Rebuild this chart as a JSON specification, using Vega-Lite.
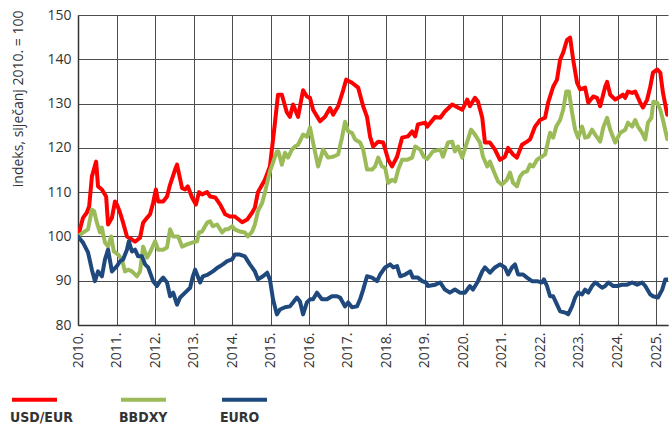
{
  "$schema": "https://vega.github.io/schema/vega-lite/v6.json",
  "width": 590,
  "height": 310,
  "autosize": {"type": "none"},
  "padding": {"left": 78, "top": 15, "right": 2, "bottom": 102},
  "background": "white",
  "config": {
    "view": {"stroke": null},
    "font": "Open Sans",
    "axis": {
      "labelFont": "Open Sans",
      "labelFontSize": 14,
      "labelColor": "#333333",
      "titleFont": "Open Sans",
      "titleFontSize": 14,
      "titleFontWeight": "normal",
      "titleColor": "#333333",
      "gridColor": "#4d4d4d",
      "gridOpacity": 1,
      "gridWidth": 1,
      "domainColor": "#333333",
      "domainWidth": 1.5,
      "ticks": false
    }
  },
  "data": {
    "values": [
      {"s":"USD/EUR","t":2010.00,"v":100},{"s":"USD/EUR","t":2010.13,"v":104.2},{"s":"USD/EUR","t":2010.23,"v":105.4},{"s":"USD/EUR","t":2010.29,"v":106.8},{"s":"USD/EUR","t":2010.36,"v":113.5},{"s":"USD/EUR","t":2010.47,"v":116.9},{"s":"USD/EUR","t":2010.52,"v":111.3},{"s":"USD/EUR","t":2010.62,"v":110.6},{"s":"USD/EUR","t":2010.73,"v":109},{"s":"USD/EUR","t":2010.78,"v":102.7},{"s":"USD/EUR","t":2010.88,"v":104.2},{"s":"USD/EUR","t":2010.96,"v":107.9},{"s":"USD/EUR","t":2011.01,"v":107.2},{"s":"USD/EUR","t":2011.09,"v":105.4},{"s":"USD/EUR","t":2011.17,"v":103.1},{"s":"USD/EUR","t":2011.27,"v":100},{"s":"USD/EUR","t":2011.40,"v":99.3},{"s":"USD/EUR","t":2011.48,"v":98.8},{"s":"USD/EUR","t":2011.61,"v":99.7},{"s":"USD/EUR","t":2011.69,"v":103.1},{"s":"USD/EUR","t":2011.79,"v":104.2},{"s":"USD/EUR","t":2011.87,"v":105},{"s":"USD/EUR","t":2011.95,"v":107.6},{"s":"USD/EUR","t":2012.02,"v":110.6},{"s":"USD/EUR","t":2012.08,"v":107.9},{"s":"USD/EUR","t":2012.21,"v":107.9},{"s":"USD/EUR","t":2012.31,"v":109},{"s":"USD/EUR","t":2012.39,"v":111.7},{"s":"USD/EUR","t":2012.52,"v":115.1},{"s":"USD/EUR","t":2012.57,"v":116.2},{"s":"USD/EUR","t":2012.70,"v":110.9},{"s":"USD/EUR","t":2012.78,"v":110.6},{"s":"USD/EUR","t":2012.85,"v":111.3},{"s":"USD/EUR","t":2012.96,"v":108.8},{"s":"USD/EUR","t":2013.06,"v":107.2},{"s":"USD/EUR","t":2013.14,"v":110},{"s":"USD/EUR","t":2013.22,"v":109.5},{"s":"USD/EUR","t":2013.35,"v":110},{"s":"USD/EUR","t":2013.43,"v":109},{"s":"USD/EUR","t":2013.56,"v":108.8},{"s":"USD/EUR","t":2013.69,"v":107.2},{"s":"USD/EUR","t":2013.82,"v":105},{"s":"USD/EUR","t":2013.94,"v":104.5},{"s":"USD/EUR","t":2014.07,"v":104.5},{"s":"USD/EUR","t":2014.26,"v":103.2},{"s":"USD/EUR","t":2014.39,"v":103.8},{"s":"USD/EUR","t":2014.52,"v":105.4},{"s":"USD/EUR","t":2014.59,"v":106.5},{"s":"USD/EUR","t":2014.67,"v":110},{"s":"USD/EUR","t":2014.85,"v":112.8},{"s":"USD/EUR","t":2014.98,"v":115.8},{"s":"USD/EUR","t":2015.11,"v":125.6},{"s":"USD/EUR","t":2015.19,"v":132},{"s":"USD/EUR","t":2015.29,"v":132},{"s":"USD/EUR","t":2015.42,"v":128},{"s":"USD/EUR","t":2015.50,"v":127},{"s":"USD/EUR","t":2015.58,"v":129.8},{"s":"USD/EUR","t":2015.71,"v":127},{"s":"USD/EUR","t":2015.84,"v":133},{"s":"USD/EUR","t":2015.94,"v":131.6},{"s":"USD/EUR","t":2016.02,"v":131.3},{"s":"USD/EUR","t":2016.10,"v":128.6},{"s":"USD/EUR","t":2016.28,"v":126},{"s":"USD/EUR","t":2016.41,"v":127},{"s":"USD/EUR","t":2016.54,"v":129},{"s":"USD/EUR","t":2016.62,"v":127.5},{"s":"USD/EUR","t":2016.75,"v":129.4},{"s":"USD/EUR","t":2016.88,"v":133},{"s":"USD/EUR","t":2016.96,"v":135.4},{"s":"USD/EUR","t":2017.11,"v":134.7},{"s":"USD/EUR","t":2017.27,"v":133.6},{"s":"USD/EUR","t":2017.40,"v":129.4},{"s":"USD/EUR","t":2017.50,"v":127},{"s":"USD/EUR","t":2017.58,"v":122.5},{"s":"USD/EUR","t":2017.66,"v":120.3},{"s":"USD/EUR","t":2017.79,"v":121.4},{"s":"USD/EUR","t":2017.92,"v":121.2},{"s":"USD/EUR","t":2018.05,"v":117.3},{"s":"USD/EUR","t":2018.15,"v":115.8},{"s":"USD/EUR","t":2018.28,"v":118},{"s":"USD/EUR","t":2018.41,"v":122.3},{"s":"USD/EUR","t":2018.56,"v":122.6},{"s":"USD/EUR","t":2018.67,"v":123.7},{"s":"USD/EUR","t":2018.75,"v":122.6},{"s":"USD/EUR","t":2018.82,"v":125.3},{"s":"USD/EUR","t":2019.01,"v":125.7},{"s":"USD/EUR","t":2019.06,"v":124.8},{"s":"USD/EUR","t":2019.27,"v":127},{"s":"USD/EUR","t":2019.40,"v":126.8},{"s":"USD/EUR","t":2019.52,"v":128.2},{"s":"USD/EUR","t":2019.71,"v":129.8},{"s":"USD/EUR","t":2019.97,"v":128.6},{"s":"USD/EUR","t":2020.10,"v":130.9},{"s":"USD/EUR","t":2020.17,"v":129.4},{"s":"USD/EUR","t":2020.30,"v":131.3},{"s":"USD/EUR","t":2020.38,"v":130.4},{"s":"USD/EUR","t":2020.49,"v":126.8},{"s":"USD/EUR","t":2020.56,"v":121.2},{"s":"USD/EUR","t":2020.69,"v":121.2},{"s":"USD/EUR","t":2020.82,"v":119.6},{"s":"USD/EUR","t":2020.95,"v":117.3},{"s":"USD/EUR","t":2021.08,"v":118},{"s":"USD/EUR","t":2021.16,"v":120},{"s":"USD/EUR","t":2021.29,"v":118.5},{"s":"USD/EUR","t":2021.39,"v":117.8},{"s":"USD/EUR","t":2021.52,"v":120.7},{"s":"USD/EUR","t":2021.65,"v":121.4},{"s":"USD/EUR","t":2021.73,"v":121.9},{"s":"USD/EUR","t":2021.86,"v":124.8},{"s":"USD/EUR","t":2021.99,"v":126.3},{"s":"USD/EUR","t":2022.12,"v":126.8},{"s":"USD/EUR","t":2022.20,"v":130.2},{"s":"USD/EUR","t":2022.33,"v":133.8},{"s":"USD/EUR","t":2022.43,"v":135.4},{"s":"USD/EUR","t":2022.51,"v":139.9},{"s":"USD/EUR","t":2022.59,"v":141.5},{"s":"USD/EUR","t":2022.69,"v":144.4},{"s":"USD/EUR","t":2022.77,"v":144.9},{"s":"USD/EUR","t":2022.85,"v":139.9},{"s":"USD/EUR","t":2022.95,"v":134.7},{"s":"USD/EUR","t":2023.03,"v":133.2},{"s":"USD/EUR","t":2023.16,"v":133.6},{"s":"USD/EUR","t":2023.24,"v":130.2},{"s":"USD/EUR","t":2023.37,"v":131.6},{"s":"USD/EUR","t":2023.47,"v":131.3},{"s":"USD/EUR","t":2023.55,"v":129.4},{"s":"USD/EUR","t":2023.68,"v":133.8},{"s":"USD/EUR","t":2023.73,"v":134.9},{"s":"USD/EUR","t":2023.81,"v":132},{"s":"USD/EUR","t":2023.94,"v":130.9},{"s":"USD/EUR","t":2024.07,"v":131.6},{"s":"USD/EUR","t":2024.14,"v":132},{"s":"USD/EUR","t":2024.20,"v":131.3},{"s":"USD/EUR","t":2024.27,"v":132.7},{"s":"USD/EUR","t":2024.38,"v":132.4},{"s":"USD/EUR","t":2024.46,"v":132.7},{"s":"USD/EUR","t":2024.59,"v":130.2},{"s":"USD/EUR","t":2024.66,"v":129.1},{"s":"USD/EUR","t":2024.77,"v":130.9},{"s":"USD/EUR","t":2024.85,"v":133.8},{"s":"USD/EUR","t":2024.92,"v":137},{"s":"USD/EUR","t":2025.03,"v":137.7},{"s":"USD/EUR","t":2025.11,"v":137},{"s":"USD/EUR","t":2025.18,"v":132.4},{"s":"USD/EUR","t":2025.29,"v":127.5},

      {"s":"BBDXY","t":2010.00,"v":100},{"s":"BBDXY","t":2010.13,"v":100.9},{"s":"BBDXY","t":2010.26,"v":101.6},{"s":"BBDXY","t":2010.36,"v":106},{"s":"BBDXY","t":2010.42,"v":105.7},{"s":"BBDXY","t":2010.49,"v":103.1},{"s":"BBDXY","t":2010.57,"v":100.9},{"s":"BBDXY","t":2010.62,"v":102},{"s":"BBDXY","t":2010.70,"v":98.6},{"s":"BBDXY","t":2010.78,"v":97.7},{"s":"BBDXY","t":2010.86,"v":100},{"s":"BBDXY","t":2010.93,"v":96.6},{"s":"BBDXY","t":2011.04,"v":95.9},{"s":"BBDXY","t":2011.14,"v":94.8},{"s":"BBDXY","t":2011.22,"v":92.1},{"s":"BBDXY","t":2011.30,"v":92.5},{"s":"BBDXY","t":2011.40,"v":92.1},{"s":"BBDXY","t":2011.53,"v":91},{"s":"BBDXY","t":2011.61,"v":92.1},{"s":"BBDXY","t":2011.69,"v":97.7},{"s":"BBDXY","t":2011.79,"v":95.2},{"s":"BBDXY","t":2011.87,"v":96.4},{"s":"BBDXY","t":2012.00,"v":98.9},{"s":"BBDXY","t":2012.08,"v":97},{"s":"BBDXY","t":2012.21,"v":97},{"s":"BBDXY","t":2012.31,"v":97.5},{"s":"BBDXY","t":2012.39,"v":101.6},{"s":"BBDXY","t":2012.47,"v":100},{"s":"BBDXY","t":2012.60,"v":100},{"s":"BBDXY","t":2012.70,"v":97.7},{"s":"BBDXY","t":2012.83,"v":98.2},{"s":"BBDXY","t":2012.96,"v":98.6},{"s":"BBDXY","t":2013.09,"v":98.9},{"s":"BBDXY","t":2013.14,"v":100.9},{"s":"BBDXY","t":2013.22,"v":101.1},{"s":"BBDXY","t":2013.35,"v":103.1},{"s":"BBDXY","t":2013.43,"v":103.4},{"s":"BBDXY","t":2013.50,"v":102.3},{"s":"BBDXY","t":2013.61,"v":102.7},{"s":"BBDXY","t":2013.74,"v":100.9},{"s":"BBDXY","t":2013.82,"v":101.6},{"s":"BBDXY","t":2013.89,"v":101.6},{"s":"BBDXY","t":2014.00,"v":102.3},{"s":"BBDXY","t":2014.07,"v":101.6},{"s":"BBDXY","t":2014.20,"v":101.1},{"s":"BBDXY","t":2014.33,"v":100.9},{"s":"BBDXY","t":2014.41,"v":100},{"s":"BBDXY","t":2014.52,"v":101.1},{"s":"BBDXY","t":2014.59,"v":102.7},{"s":"BBDXY","t":2014.67,"v":105.7},{"s":"BBDXY","t":2014.78,"v":107.6},{"s":"BBDXY","t":2014.85,"v":109.9},{"s":"BBDXY","t":2014.98,"v":114.7},{"s":"BBDXY","t":2015.06,"v":116.7},{"s":"BBDXY","t":2015.16,"v":119.2},{"s":"BBDXY","t":2015.20,"v":119.2},{"s":"BBDXY","t":2015.29,"v":116.2},{"s":"BBDXY","t":2015.37,"v":118.9},{"s":"BBDXY","t":2015.45,"v":117.8},{"s":"BBDXY","t":2015.55,"v":119.6},{"s":"BBDXY","t":2015.63,"v":120.3},{"s":"BBDXY","t":2015.71,"v":120.7},{"s":"BBDXY","t":2015.84,"v":123},{"s":"BBDXY","t":2015.94,"v":122.5},{"s":"BBDXY","t":2016.02,"v":124.6},{"s":"BBDXY","t":2016.10,"v":121.2},{"s":"BBDXY","t":2016.23,"v":115.8},{"s":"BBDXY","t":2016.36,"v":119.6},{"s":"BBDXY","t":2016.49,"v":117.8},{"s":"BBDXY","t":2016.62,"v":118},{"s":"BBDXY","t":2016.75,"v":118.5},{"s":"BBDXY","t":2016.85,"v":122.3},{"s":"BBDXY","t":2016.93,"v":125.9},{"s":"BBDXY","t":2017.01,"v":123.7},{"s":"BBDXY","t":2017.11,"v":123.4},{"s":"BBDXY","t":2017.19,"v":121.9},{"s":"BBDXY","t":2017.32,"v":121.2},{"s":"BBDXY","t":2017.40,"v":119.6},{"s":"BBDXY","t":2017.50,"v":115.1},{"s":"BBDXY","t":2017.63,"v":115.1},{"s":"BBDXY","t":2017.71,"v":115.8},{"s":"BBDXY","t":2017.79,"v":117.8},{"s":"BBDXY","t":2017.89,"v":115.8},{"s":"BBDXY","t":2017.97,"v":115.5},{"s":"BBDXY","t":2018.05,"v":112.1},{"s":"BBDXY","t":2018.15,"v":112.8},{"s":"BBDXY","t":2018.23,"v":112.4},{"s":"BBDXY","t":2018.31,"v":115.1},{"s":"BBDXY","t":2018.41,"v":117.3},{"s":"BBDXY","t":2018.54,"v":117.3},{"s":"BBDXY","t":2018.67,"v":117.8},{"s":"BBDXY","t":2018.75,"v":120.3},{"s":"BBDXY","t":2018.88,"v":119.6},{"s":"BBDXY","t":2018.97,"v":118},{"s":"BBDXY","t":2019.06,"v":117.5},{"s":"BBDXY","t":2019.21,"v":119.2},{"s":"BBDXY","t":2019.40,"v":119.6},{"s":"BBDXY","t":2019.47,"v":118},{"s":"BBDXY","t":2019.60,"v":121.2},{"s":"BBDXY","t":2019.71,"v":121.4},{"s":"BBDXY","t":2019.78,"v":119.2},{"s":"BBDXY","t":2019.86,"v":120.3},{"s":"BBDXY","t":2019.97,"v":117.8},{"s":"BBDXY","t":2020.10,"v":121.4},{"s":"BBDXY","t":2020.20,"v":124.1},{"s":"BBDXY","t":2020.30,"v":123},{"s":"BBDXY","t":2020.43,"v":121.2},{"s":"BBDXY","t":2020.51,"v":118},{"s":"BBDXY","t":2020.62,"v":115.8},{"s":"BBDXY","t":2020.69,"v":116.9},{"s":"BBDXY","t":2020.77,"v":115.1},{"s":"BBDXY","t":2020.90,"v":112.4},{"s":"BBDXY","t":2021.00,"v":111.7},{"s":"BBDXY","t":2021.13,"v":112.8},{"s":"BBDXY","t":2021.21,"v":114.4},{"s":"BBDXY","t":2021.29,"v":112.1},{"s":"BBDXY","t":2021.39,"v":111.3},{"s":"BBDXY","t":2021.47,"v":113.5},{"s":"BBDXY","t":2021.55,"v":114.4},{"s":"BBDXY","t":2021.65,"v":114.7},{"s":"BBDXY","t":2021.73,"v":116.2},{"s":"BBDXY","t":2021.81,"v":115.8},{"s":"BBDXY","t":2021.91,"v":117.3},{"s":"BBDXY","t":2021.99,"v":117.8},{"s":"BBDXY","t":2022.04,"v":118},{"s":"BBDXY","t":2022.12,"v":118.5},{"s":"BBDXY","t":2022.25,"v":123.4},{"s":"BBDXY","t":2022.33,"v":122.3},{"s":"BBDXY","t":2022.41,"v":124.8},{"s":"BBDXY","t":2022.51,"v":126.3},{"s":"BBDXY","t":2022.59,"v":128.6},{"s":"BBDXY","t":2022.67,"v":132.7},{"s":"BBDXY","t":2022.74,"v":132.7},{"s":"BBDXY","t":2022.82,"v":128},{"s":"BBDXY","t":2022.90,"v":124.1},{"s":"BBDXY","t":2022.98,"v":122.3},{"s":"BBDXY","t":2023.08,"v":124.8},{"s":"BBDXY","t":2023.16,"v":122.3},{"s":"BBDXY","t":2023.24,"v":122.5},{"s":"BBDXY","t":2023.34,"v":124.1},{"s":"BBDXY","t":2023.42,"v":123},{"s":"BBDXY","t":2023.55,"v":121.4},{"s":"BBDXY","t":2023.63,"v":124.6},{"s":"BBDXY","t":2023.73,"v":126.8},{"s":"BBDXY","t":2023.81,"v":124.1},{"s":"BBDXY","t":2023.94,"v":121.2},{"s":"BBDXY","t":2024.07,"v":123.4},{"s":"BBDXY","t":2024.20,"v":124.1},{"s":"BBDXY","t":2024.27,"v":125.7},{"s":"BBDXY","t":2024.38,"v":124.8},{"s":"BBDXY","t":2024.46,"v":126.3},{"s":"BBDXY","t":2024.53,"v":124.8},{"s":"BBDXY","t":2024.64,"v":123.4},{"s":"BBDXY","t":2024.72,"v":121.9},{"s":"BBDXY","t":2024.79,"v":125.7},{"s":"BBDXY","t":2024.88,"v":126.8},{"s":"BBDXY","t":2024.93,"v":130.4},{"s":"BBDXY","t":2025.03,"v":130.2},{"s":"BBDXY","t":2025.11,"v":128.6},{"s":"BBDXY","t":2025.18,"v":126.3},{"s":"BBDXY","t":2025.29,"v":122},

      {"s":"EURO","t":2010.00,"v":100},{"s":"EURO","t":2010.13,"v":98.6},{"s":"EURO","t":2010.26,"v":96.4},{"s":"EURO","t":2010.36,"v":92.5},{"s":"EURO","t":2010.44,"v":89.9},{"s":"EURO","t":2010.52,"v":92.1},{"s":"EURO","t":2010.62,"v":91},{"s":"EURO","t":2010.70,"v":94.8},{"s":"EURO","t":2010.78,"v":97},{"s":"EURO","t":2010.88,"v":92.1},{"s":"EURO","t":2011.01,"v":93.3},{"s":"EURO","t":2011.09,"v":94.4},{"s":"EURO","t":2011.17,"v":94.8},{"s":"EURO","t":2011.27,"v":97},{"s":"EURO","t":2011.32,"v":98.9},{"s":"EURO","t":2011.40,"v":96.6},{"s":"EURO","t":2011.48,"v":97},{"s":"EURO","t":2011.56,"v":95.5},{"s":"EURO","t":2011.66,"v":95.5},{"s":"EURO","t":2011.74,"v":93.7},{"s":"EURO","t":2011.82,"v":93},{"s":"EURO","t":2011.95,"v":89.9},{"s":"EURO","t":2012.05,"v":88.8},{"s":"EURO","t":2012.13,"v":89.9},{"s":"EURO","t":2012.21,"v":90.7},{"s":"EURO","t":2012.31,"v":89.6},{"s":"EURO","t":2012.39,"v":86.5},{"s":"EURO","t":2012.47,"v":87.3},{"s":"EURO","t":2012.57,"v":84.6},{"s":"EURO","t":2012.65,"v":86.2},{"s":"EURO","t":2012.78,"v":87.3},{"s":"EURO","t":2012.91,"v":88.4},{"s":"EURO","t":2012.98,"v":91},{"s":"EURO","t":2013.04,"v":92.5},{"s":"EURO","t":2013.17,"v":89.6},{"s":"EURO","t":2013.24,"v":91},{"s":"EURO","t":2013.37,"v":91.4},{"s":"EURO","t":2013.50,"v":92.1},{"s":"EURO","t":2013.63,"v":93},{"s":"EURO","t":2013.76,"v":93.7},{"s":"EURO","t":2013.87,"v":94.4},{"s":"EURO","t":2014.00,"v":94.8},{"s":"EURO","t":2014.07,"v":95.9},{"s":"EURO","t":2014.20,"v":95.9},{"s":"EURO","t":2014.33,"v":95.5},{"s":"EURO","t":2014.46,"v":93.7},{"s":"EURO","t":2014.59,"v":92.1},{"s":"EURO","t":2014.67,"v":90.3},{"s":"EURO","t":2014.80,"v":91},{"s":"EURO","t":2014.91,"v":91.8},{"s":"EURO","t":2014.98,"v":90.3},{"s":"EURO","t":2015.06,"v":85.8},{"s":"EURO","t":2015.16,"v":82.4},{"s":"EURO","t":2015.24,"v":83.5},{"s":"EURO","t":2015.37,"v":84},{"s":"EURO","t":2015.50,"v":84.2},{"s":"EURO","t":2015.58,"v":85.1},{"s":"EURO","t":2015.68,"v":86.2},{"s":"EURO","t":2015.76,"v":85.3},{"s":"EURO","t":2015.84,"v":82.4},{"s":"EURO","t":2015.94,"v":85.1},{"s":"EURO","t":2016.02,"v":85.8},{"s":"EURO","t":2016.10,"v":85.8},{"s":"EURO","t":2016.20,"v":87.3},{"s":"EURO","t":2016.33,"v":85.8},{"s":"EURO","t":2016.46,"v":85.8},{"s":"EURO","t":2016.59,"v":86.5},{"s":"EURO","t":2016.72,"v":86.5},{"s":"EURO","t":2016.80,"v":86.2},{"s":"EURO","t":2016.93,"v":84.2},{"s":"EURO","t":2017.01,"v":85.1},{"s":"EURO","t":2017.11,"v":84},{"s":"EURO","t":2017.24,"v":84.2},{"s":"EURO","t":2017.32,"v":85.8},{"s":"EURO","t":2017.40,"v":88},{"s":"EURO","t":2017.50,"v":91},{"s":"EURO","t":2017.63,"v":90.7},{"s":"EURO","t":2017.76,"v":89.9},{"s":"EURO","t":2017.84,"v":91.4},{"s":"EURO","t":2017.97,"v":93},{"s":"EURO","t":2018.10,"v":93.7},{"s":"EURO","t":2018.18,"v":93},{"s":"EURO","t":2018.28,"v":93.3},{"s":"EURO","t":2018.36,"v":91},{"s":"EURO","t":2018.49,"v":91.4},{"s":"EURO","t":2018.62,"v":92.1},{"s":"EURO","t":2018.69,"v":90.7},{"s":"EURO","t":2018.82,"v":90.7},{"s":"EURO","t":2018.93,"v":89.9},{"s":"EURO","t":2019.03,"v":89.6},{"s":"EURO","t":2019.08,"v":88.8},{"s":"EURO","t":2019.27,"v":89.1},{"s":"EURO","t":2019.40,"v":89.6},{"s":"EURO","t":2019.52,"v":88},{"s":"EURO","t":2019.65,"v":87.3},{"s":"EURO","t":2019.78,"v":88},{"s":"EURO","t":2019.91,"v":87.3},{"s":"EURO","t":2020.04,"v":87.3},{"s":"EURO","t":2020.17,"v":88.8},{"s":"EURO","t":2020.25,"v":88},{"s":"EURO","t":2020.38,"v":89.9},{"s":"EURO","t":2020.49,"v":92.1},{"s":"EURO","t":2020.56,"v":93},{"s":"EURO","t":2020.69,"v":91.8},{"s":"EURO","t":2020.82,"v":93},{"s":"EURO","t":2020.95,"v":93.7},{"s":"EURO","t":2021.08,"v":93},{"s":"EURO","t":2021.16,"v":91.4},{"s":"EURO","t":2021.26,"v":93},{"s":"EURO","t":2021.34,"v":93.7},{"s":"EURO","t":2021.42,"v":91.4},{"s":"EURO","t":2021.55,"v":91.4},{"s":"EURO","t":2021.65,"v":90.7},{"s":"EURO","t":2021.78,"v":89.9},{"s":"EURO","t":2021.91,"v":89.9},{"s":"EURO","t":2022.04,"v":89.6},{"s":"EURO","t":2022.09,"v":90.3},{"s":"EURO","t":2022.17,"v":88.8},{"s":"EURO","t":2022.25,"v":86.5},{"s":"EURO","t":2022.33,"v":86.5},{"s":"EURO","t":2022.43,"v":84.6},{"s":"EURO","t":2022.51,"v":83.1},{"s":"EURO","t":2022.64,"v":82.8},{"s":"EURO","t":2022.72,"v":82.4},{"s":"EURO","t":2022.82,"v":84.2},{"s":"EURO","t":2022.90,"v":86.2},{"s":"EURO","t":2022.98,"v":87.3},{"s":"EURO","t":2023.08,"v":86.9},{"s":"EURO","t":2023.16,"v":88},{"s":"EURO","t":2023.24,"v":87.3},{"s":"EURO","t":2023.34,"v":88.8},{"s":"EURO","t":2023.42,"v":89.6},{"s":"EURO","t":2023.50,"v":89.1},{"s":"EURO","t":2023.60,"v":88.4},{"s":"EURO","t":2023.68,"v":88.8},{"s":"EURO","t":2023.76,"v":89.6},{"s":"EURO","t":2023.89,"v":88.8},{"s":"EURO","t":2023.99,"v":88.8},{"s":"EURO","t":2024.12,"v":89.1},{"s":"EURO","t":2024.25,"v":89.1},{"s":"EURO","t":2024.38,"v":89.6},{"s":"EURO","t":2024.51,"v":89.1},{"s":"EURO","t":2024.64,"v":89.6},{"s":"EURO","t":2024.72,"v":88.8},{"s":"EURO","t":2024.85,"v":86.9},{"s":"EURO","t":2024.92,"v":86.5},{"s":"EURO","t":2025.05,"v":86.2},{"s":"EURO","t":2025.16,"v":88},{"s":"EURO","t":2025.24,"v":90.3},{"s":"EURO","t":2025.29,"v":90.3}
    ]
  },
  "mark": {"type": "line", "strokeWidth": 4, "strokeJoin": "round", "strokeCap": "round", "clip": true},
  "encoding": {
    "x": {
      "field": "t",
      "type": "quantitative",
      "scale": {"domain": [2010, 2025.31], "nice": false, "zero": false},
      "axis": {
        "title": null,
        "values": [2010, 2011, 2012, 2013, 2014, 2015, 2016, 2017, 2018, 2019, 2020, 2021, 2022, 2023, 2024, 2025],
        "labelExpr": "datum.value + '.'",
        "labelAngle": -90,
        "labelAlign": "right",
        "labelBaseline": "middle",
        "labelPadding": 7,
        "grid": true
      }
    },
    "y": {
      "field": "v",
      "type": "quantitative",
      "scale": {"domain": [80, 150], "nice": false, "zero": false},
      "axis": {
        "title": "indeks, siječanj 2010. = 100",
        "values": [80, 90, 100, 110, 120, 130, 140, 150],
        "labelPadding": 7,
        "grid": true,
        "titleAngle": -90,
        "titleAlign": "right",
        "titleBaseline": "middle",
        "titleX": -60,
        "titleY": -5
      }
    },
    "color": {
      "field": "s",
      "type": "nominal",
      "sort": ["USD/EUR", "BBDXY", "EURO"],
      "scale": {"domain": ["USD/EUR", "BBDXY", "EURO"], "range": ["#ff0000", "#9bbb59", "#1f497d"]},
      "legend": {
        "title": null,
        "orient": "none",
        "direction": "horizontal",
        "legendX": -68,
        "legendY": 360,
        "symbolType": "stroke",
        "symbolSize": 2025,
        "symbolStrokeWidth": 4,
        "labelOffset": -49,
        "columnPadding": 40,
        "labelFont": "Liberation Sans Narrow, DejaVu Sans Condensed, sans-serif",
        "labelFontSize": 14,
        "labelFontWeight": "bold",
        "labelColor": "#333333",
        "encode": {"labels": {"update": {"dy": {"value": 18}}}}
      }
    }
  }
}
